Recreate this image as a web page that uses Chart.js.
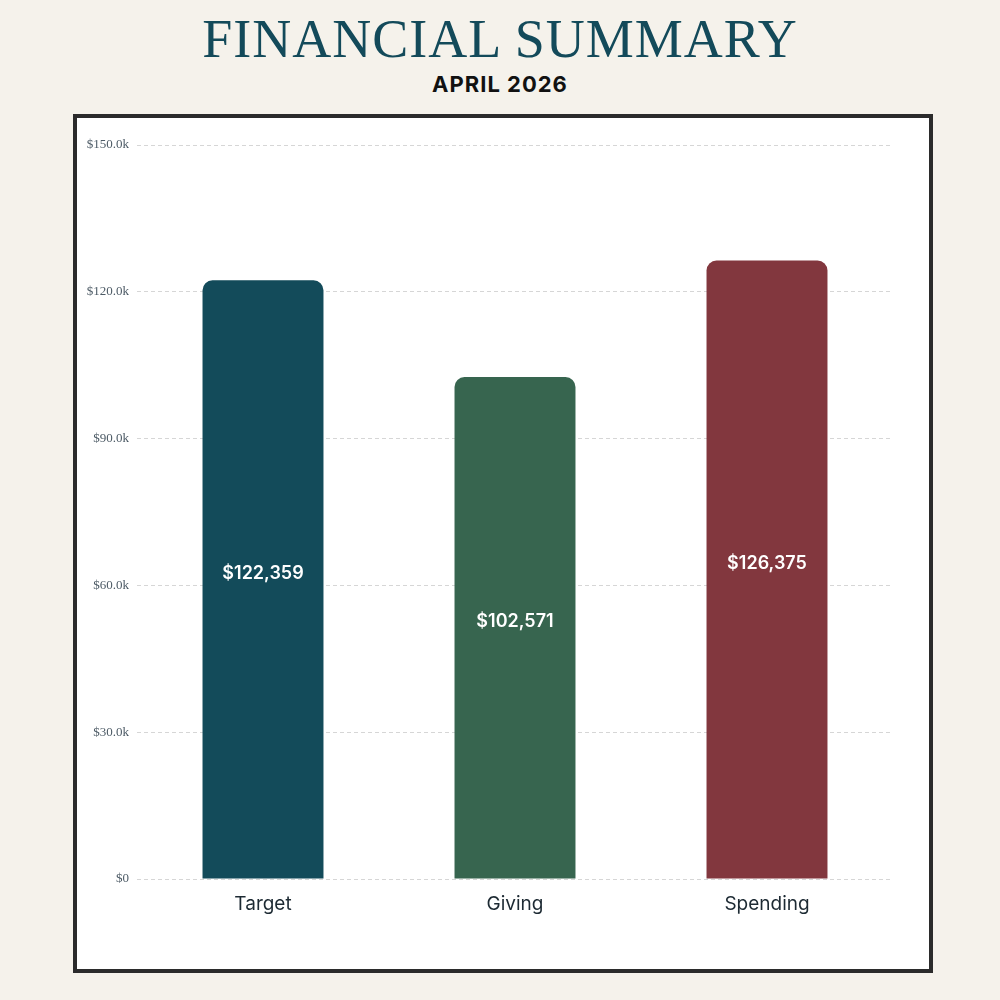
<!DOCTYPE html>
<html>
<head>
<meta charset="utf-8">
<script src="https://cdn.jsdelivr.net/npm/chart.js@4"></script>
<style>
  body { margin: 0; width: 1000px; height: 1000px; background: #f5f2eb; position: relative; overflow: hidden; }
  h1 { position: absolute; top: 8px; left: 0; width: 1000px; margin: 0; text-align: center;
       font-family: "Liberation Serif", serif; font-weight: normal; font-size: 54px; color: #134a5a; letter-spacing: 1px; }
  h2 { position: absolute; top: 71px; left: 0; width: 1000px; margin: 0; text-align: center;
       font-family: Inter, "Liberation Sans", sans-serif; font-weight: 700; font-size: 22px; color: #111; letter-spacing: 1px; }
  #box { position: absolute; left: 73px; top: 114px; width: 852px; height: 851px; border: 4px solid #2b2b2b; background: #fff; }
  canvas { display: block; }
</style>
</head>
<body>
<h1>FINANCIAL SUMMARY</h1>
<h2>APRIL 2026</h2>
<div id="box"><canvas id="chart" width="852" height="851"></canvas></div>
<script>
const categories = ['Target', 'Giving', 'Spending'];
const amounts = [122359, 102571, 126375];
const barColors = ['#134b5a', '#37654f', '#82373e'];
const tickValues = [0, 30000, 60000, 90000, 120000, 150000];

const barLabels = {
    id: 'barLabels',
    afterDatasetsDraw(chart) {
        const ctx = chart.ctx;
        const meta = chart.getDatasetMeta(0);
        ctx.save();
        ctx.fillStyle = '#fff';
        ctx.font = '600 18px Inter, "Liberation Sans", sans-serif';
        ctx.textAlign = 'center';
        ctx.textBaseline = 'middle';
        meta.data.forEach((bar, i) => {
            const mid = (bar.y + bar.base) / 2;
            ctx.fillText('$' + amounts[i].toLocaleString('en-US'), bar.x, mid - 6);
        });
        ctx.restore();
    }
};

new Chart(document.getElementById('chart'), {
    type: 'bar',
    data: {
        labels: categories,
        datasets: [{
            data: amounts,
            backgroundColor: barColors,
            borderRadius: { topLeft: 10, topRight: 10 },
            borderSkipped: 'bottom',
            barPercentage: 0.8,
            categoryPercentage: 0.6
        }]
    },
    options: {
        responsive: false,
        animation: false,
        layout: { padding: { top: 27, right: 36, left: 0, bottom: 0 } },
        plugins: { legend: { display: false }, tooltip: { enabled: false } },
        scales: {
            y: {
                min: 0, max: 150000,
                afterFit: s => { s.width = 60; },
                afterBuildTicks: s => { s.ticks = tickValues.map(v => ({ value: v })); },
                border: { display: false },
                grid: { color: '#d6d6d6', drawTicks: false },
                border: { display: false, dash: [4, 3] },
                ticks: {
                    padding: 8,
                    color: '#4d5b66',
                    font: { size: 13, family: '"Liberation Serif", serif' },
                    callback: v => v === 0 ? '$0' : '$' + (v / 1000).toFixed(1) + 'k'
                }
            },
            x: {
                afterFit: s => { s.height = 90; },
                grid: { display: false },
                border: { display: false },
                ticks: { padding: 6, color: '#1d2a33', font: { size: 19, family: 'Inter, "Liberation Sans", sans-serif' } }
            }
        }
    },
    plugins: [barLabels]
});
</script>
</body>
</html>
